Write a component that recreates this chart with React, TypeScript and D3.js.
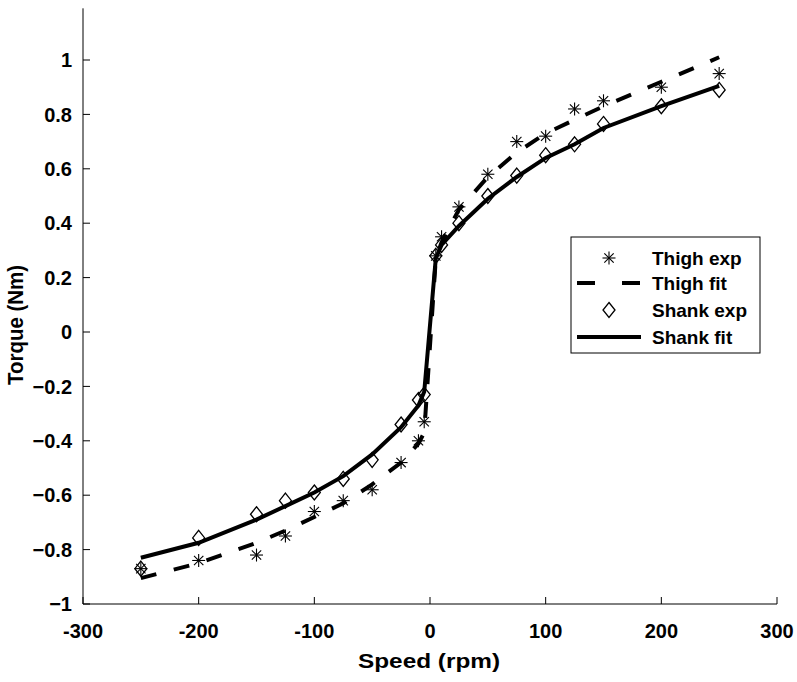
import React from 'react'
import * as d3 from 'd3'

// speeds (rpm) where the measurements / fits are given
const speeds = [-250, -200, -150, -125, -100, -75, -50, -25, -10, -5, 5, 10, 25, 50, 75, 100, 125, 150, 200, 250]
const thighExp = [-0.87, -0.84, -0.82, -0.75, -0.66, -0.62, -0.58, -0.48, -0.40, -0.33, 0.28, 0.35, 0.46, 0.58, 0.70, 0.72, 0.82, 0.85, 0.90, 0.95]
const thighFit = [-0.905, -0.85, -0.775, -0.73, -0.68, -0.63, -0.56, -0.48, -0.41, -0.37, 0.27, 0.33, 0.45, 0.57, 0.66, 0.73, 0.78, 0.83, 0.92, 1.01]
const shankExp = [-0.87, -0.757, -0.67, -0.62, -0.59, -0.54, -0.47, -0.34, -0.25, -0.23, 0.28, 0.32, 0.40, 0.50, 0.575, 0.65, 0.69, 0.765, 0.83, 0.89]
const shankFit = [-0.83, -0.775, -0.69, -0.64, -0.59, -0.53, -0.45, -0.35, -0.27, -0.22, 0.27, 0.32, 0.39, 0.49, 0.57, 0.64, 0.69, 0.75, 0.83, 0.905]

const xTicks = [-300, -200, -100, 0, 100, 200, 300]
const yTicks = [-1, -0.8, -0.6, -0.4, -0.2, 0, 0.2, 0.4, 0.6, 0.8, 1]
const legendLabels = ['Thigh exp', 'Thigh fit', 'Shank exp', 'Shank fit']

const font = '"Liberation Sans", Arial, sans-serif'

function Asterisk({ x, y }: { x: number; y: number }) {
  const r = 6.5
  const d = r * 0.72
  return (
    <g stroke="#000" strokeWidth={1.1}>
      <line x1={x} y1={y - r} x2={x} y2={y + r} />
      <line x1={x - r} y1={y} x2={x + r} y2={y} />
      <line x1={x - d} y1={y - d} x2={x + d} y2={y + d} />
      <line x1={x - d} y1={y + d} x2={x + d} y2={y - d} />
    </g>
  )
}

function Diamond({ x, y }: { x: number; y: number }) {
  return (
    <path
      d={`M${x},${y - 7.5}L${x + 6},${y}L${x},${y + 7.5}L${x - 6},${y}Z`}
      fill="none"
      stroke="#000"
      strokeWidth={1.3}
    />
  )
}

export default function App() {
  const x = d3.scaleLinear().domain([-300, 300]).range([83, 777])
  const y = d3.scaleLinear().domain([-1, 1]).range([604, 60])
  const yTop = y(1.19)

  const line = d3.line<number>()
    .x((d, i) => x(speeds[i]))
    .y(d => y(d))

  const lx = 571, ly = 237, lw = 189, lh = 116
  const rows = [258, 283, 310, 337]

  return (
    <svg width={797} height={682} style={{ position: 'absolute', left: 0, top: 0, background: '#fff' }}>
      <rect width={797} height={682} fill="#fff" />

      {/* axes */}
      <g stroke="#000" strokeWidth={1}>
        <line x1={x(-300)} y1={yTop} x2={x(-300)} y2={y(-1)} />
        <line x1={x(-300)} y1={y(-1)} x2={x(300)} y2={y(-1)} />
        {yTicks.map(t => (
          <line key={'yt' + t} x1={x(-300)} x2={x(-300) + 7} y1={y(t)} y2={y(t)} />
        ))}
        {xTicks.map(t => (
          <line key={'xt' + t} x1={x(t)} x2={x(t)} y1={y(-1)} y2={y(-1) - 7} />
        ))}
      </g>
      <g fontFamily={font} fontWeight="bold" fontSize={20} fill="#000">
        {yTicks.map(t => (
          <text key={'yl' + t} x={72} y={y(t)} dy="0.36em" textAnchor="end">{d3.format('')(t)}</text>
        ))}
        {xTicks.map(t => (
          <text key={'xl' + t} x={x(t)} y={638} textAnchor="middle">{t}</text>
        ))}
        <text x={429} y={668} textAnchor="middle" fontSize={21} textLength={142} lengthAdjust="spacingAndGlyphs">Speed (rpm)</text>
        <text transform="translate(23,325) rotate(-90)" textAnchor="middle" fontSize={22} textLength={120} lengthAdjust="spacingAndGlyphs">Torque (Nm)</text>
      </g>

      {/* series */}
      {thighExp.map((v, i) => <Asterisk key={'te' + i} x={x(speeds[i])} y={y(v)} />)}
      <path d={line(thighFit) || ''} fill="none" stroke="#000" strokeWidth={4} strokeDasharray="16 18" />
      {shankExp.map((v, i) => <Diamond key={'se' + i} x={x(speeds[i])} y={y(v)} />)}
      <path d={line(shankFit) || ''} fill="none" stroke="#000" strokeWidth={4} />

      {/* legend */}
      <rect x={lx} y={ly} width={lw} height={lh} fill="#fff" stroke="#000" strokeWidth={1} />
      <Asterisk x={609} y={rows[0]} />
      <line x1={577} x2={640} y1={rows[1]} y2={rows[1]} stroke="#000" strokeWidth={4} strokeDasharray="18 27" />
      <Diamond x={609} y={rows[2]} />
      <line x1={577} x2={641} y1={rows[3]} y2={rows[3]} stroke="#000" strokeWidth={4} />
      <g fontFamily={font} fontWeight="bold" fontSize={19} fill="#000">
        {legendLabels.map((l, i) => (
          <text key={l} x={652} y={rows[i]} dy="0.36em">{l}</text>
        ))}
      </g>
    </svg>
  )
}
